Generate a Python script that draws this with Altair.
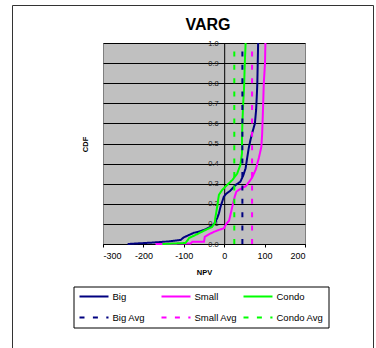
import altair as alt
import pandas as pd

# ---- data ----
big_npv = [-239, -178, -137, -108, -100, -87, -75, -63, -46, -30, -23, -17, -13, -9, -5, -1, 5, 15, 28, 40, 47, 53, 57, 61, 65, 69, 76, 79, 81, 82, 83, 84]
big_cdf = [0.0, 0.007, 0.013, 0.02, 0.033, 0.045, 0.056, 0.061, 0.073, 0.09, 0.106, 0.13, 0.153, 0.186, 0.21, 0.235, 0.25, 0.265, 0.293, 0.31, 0.34, 0.377, 0.43, 0.48, 0.517, 0.55, 0.60, 0.667, 0.75, 0.80, 0.90, 1.0]

small_npv = [-170, -83, -79, -50, -48, -38, -25, -13, -1, 5, 12, 16, 20, 24, 26, 30, 36, 45, 53, 62, 69, 78, 86, 92, 94, 96, 98, 101, 102]
small_cdf = [0.0, 0.003, 0.011, 0.011, 0.036, 0.048, 0.061, 0.07, 0.078, 0.10, 0.116, 0.15, 0.186, 0.22, 0.235, 0.26, 0.269, 0.28, 0.287, 0.31, 0.33, 0.37, 0.43, 0.484, 0.55, 0.667, 0.80, 0.90, 1.0]

condo_npv = [-153, -96, -90, -87, -71, -46, -30, -23, -22, -20, -17, -15, -13, -5, 7, 20, 32, 40, 44, 44, 45, 47, 49, 51, 53]
condo_cdf = [0.0, 0.005, 0.02, 0.03, 0.045, 0.07, 0.085, 0.106, 0.13, 0.153, 0.19, 0.22, 0.245, 0.269, 0.293, 0.318, 0.35, 0.393, 0.45, 0.52, 0.60, 0.70, 0.77, 0.90, 1.0]

avg_names = ["Big Avg", "Small Avg", "Condo Avg"]
avg_values = [45, 69, 25]

series_order = ["Big", "Small", "Condo", "Big Avg", "Small Avg", "Condo Avg"]
series_colors = ["#000080", "#FF00FF", "#00FF00", "#000080", "#FF00FF", "#00FF00"]
series_dashes = [[1, 0], [1, 0], [1, 0], [5, 8.4], [5, 8.4], [5, 8.4]]
series_widths = [2, 2, 2, 3, 3, 3]

x_ticks = [-300, -200, -100, 0, 100, 200]
y_ticks = [0.0, 0.1, 0.2, 0.3, 0.4, 0.5, 0.6, 0.7, 0.8, 0.9, 1.0]

# ---- build table ----
rows = []
for name, xs, ys in [("Big", big_npv, big_cdf), ("Small", small_npv, small_cdf), ("Condo", condo_npv, condo_cdf)]:
    for i, (x, y) in enumerate(zip(xs, ys)):
        rows.append({"series": name, "npv": x, "cdf": y, "idx": i})
for name, v in zip(avg_names, avg_values):
    rows.append({"series": name, "npv": v, "cdf": 0.0, "idx": 0})
    rows.append({"series": name, "npv": v, "cdf": 1.0, "idx": 1})
df = pd.DataFrame(rows)

FONT = "Liberation Sans"
W, H = 202, 201
ZERO_X = W * 300 / 500

legend = alt.Legend(
    title=None, orient="none", legendX=-29.5, legendY=243.5,
    columns=3, direction="horizontal", symbolType="stroke", symbolSize=841,
    labelFont=FONT, labelFontSize=9.5, labelColor="black", labelOffset=3,
    columnPadding=1, rowPadding=11, padding=5, gridAlign="all", clipHeight=10,
    strokeColor="black", labelLimit=200,
)

color = alt.Color("series:N", scale=alt.Scale(domain=series_order, range=series_colors), legend=legend)
dash = alt.StrokeDash("series:N", scale=alt.Scale(domain=series_order, range=series_dashes), legend=legend)
width = alt.StrokeWidth("series:N", scale=alt.Scale(domain=series_order, range=series_widths), legend=legend)

xenc = alt.X("npv:Q", scale=alt.Scale(domain=[-300, 200], nice=False, zero=False),
             axis=alt.Axis(values=x_ticks, grid=False, domainColor="black", tickColor="black",
                           tickSize=3, labelFontSize=9, labelPadding=4, labelColor="black", labelFont=FONT,
                           labelExpr="'' + datum.value",
                           title="NPV", titleFont=FONT, titleFontSize=7.5, titleFontWeight="bold",
                           titleY=28, titleBaseline="middle", titleColor="black"))
yenc = alt.Y("cdf:Q", scale=alt.Scale(domain=[0, 1], nice=False),
             axis=alt.Axis(values=y_ticks, format=".1f", grid=True, gridColor="black", gridOpacity=1,
                           domainColor="black", tickColor="black", tickSize=3, labelFontSize=7.5,
                           labelPadding=3, labelColor="#222", labelFont=FONT, offset=-ZERO_X,
                           title="CDF", titleFont=FONT, titleFontSize=7.5, titleFontWeight="bold",
                           titleX=85 - 103 - ZERO_X, titleY=101, titleAngle=270, titleAlign="center",
                           titleBaseline="middle", titleColor="black"))

base = alt.Chart(df)
curves = base.transform_filter(
    alt.FieldOneOfPredicate(field="series", oneOf=["Big", "Small", "Condo"])
).mark_line(strokeCap="butt").encode(x=xenc, y=yenc, color=color, strokeDash=dash, strokeWidth=width,
                                     order=alt.Order("idx:Q"))
avgs = base.transform_filter(
    alt.FieldOneOfPredicate(field="series", oneOf=avg_names)
).mark_line(strokeCap="butt").encode(x=xenc, y=yenc, color=color, strokeDash=dash, strokeWidth=width,
                                     order=alt.Order("idx:Q"))

frame = alt.Chart(pd.DataFrame({"k": [0]})).mark_rect(
    fillOpacity=0, stroke="#333333", strokeWidth=1
).encode(x=alt.value(-90.5), x2=alt.value(270.5), y=alt.value(-37.5), y2=alt.value(330))

chart = alt.layer(frame, curves, avgs).properties(
    width=W, height=H,
    title=alt.TitleParams("VARG", font=FONT, fontSize=16, fontWeight="bold", color="black",
                          anchor="middle", dx=4, dy=50, offset=9, baseline="alphabetic"),
    autosize=alt.AutoSizeParams(type="none"),
    padding={"left": 103, "top": 43, "right": 71, "bottom": 104},
).configure(background="white").configure_view(fill="#C0C0C0", stroke="#808080", strokeWidth=1)

chart.save("out.html", embed_options={"renderer": "svg", "actions": False})
